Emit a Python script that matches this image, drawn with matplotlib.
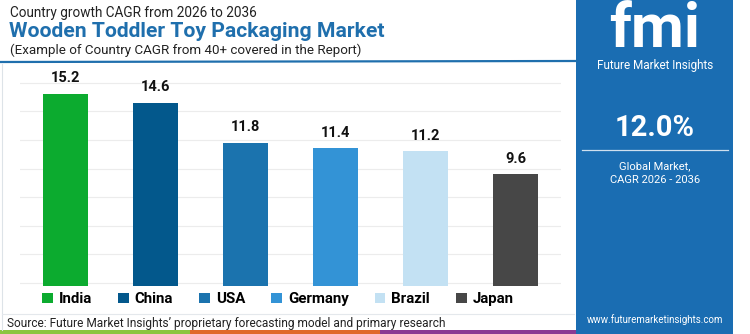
import matplotlib.pyplot as plt
from matplotlib.patches import Rectangle
from matplotlib.lines import Line2D

plt.rcParams['font.family'] = ['Roboto', 'DejaVu Sans']

countries = ['India', 'China', 'USA', 'Germany', 'Brazil', 'Japan']
cagr = [15.2, 14.6, 11.8, 11.4, 11.2, 9.6]
bar_colors = ['#0cab2f', '#03588c', '#1b73ae', '#3393d6', '#c3e1f3', '#474747']
global_cagr = '12.0%'

W, H = 750, 334
fig = plt.figure(figsize=(7.5, 3.34), dpi=100)
fig.patch.set_facecolor('white')


def fx(px):
    return px / W


def fy(py):
    return 1 - py / H


# right blue panel
fig.patches.append(Rectangle((fx(576), 0), fx(157), 1, transform=fig.transFigure,
                             facecolor='#1a6db2', edgecolor='none', zorder=0))

# bottom colour stripe
for x0, x1, c in [(0, 190, '#8cc540'), (190, 380, '#e0692c'), (380, 576, '#8a3a93')]:
    fig.patches.append(Rectangle((fx(x0), 0), fx(x1 - x0), 4 / H, transform=fig.transFigure,
                                 facecolor=c, edgecolor='none', zorder=1))

# title separator line
fig.add_artist(Line2D([fx(0), fx(576)], [fy(62), fy(61)], color='#1f6fad', lw=1.6,
                      transform=fig.transFigure))
# light frame around source
fig.add_artist(Line2D([fx(2), fx(2)], [fy(64), fy(330)], color='#dde3e8', lw=0.8,
                      transform=fig.transFigure))
fig.add_artist(Line2D([fx(2), fx(574)], [fy(314), fy(314)], color='#e4e8ec', lw=0.8,
                      transform=fig.transFigure))

# titles
fig.text(fx(10), fy(13), 'Country growth CAGR from 2026 to 2036', fontsize=9.8,
         color='#222222', va='center', ha='left')
fig.text(fx(9), fy(31.5), 'Wooden Toddler Toy Packaging Market', fontsize=15.2,
         fontweight='bold', color='#1f6fad', va='center', ha='left')
fig.text(fx(10), fy(50), '(Example of Country CAGR from 40+ covered in the Report)',
         fontsize=9.6, color='#222222', va='center', ha='left')

# bar chart
ax = fig.add_axes([fx(20), fy(286), fx(541), (286 - 75) / H])
x = range(len(countries))
bars = ax.bar(x, cagr, width=0.5, color=bar_colors, zorder=3)
ax.set_xlim(-0.5, len(countries) - 0.5)
ax.set_ylim(1.8, 16.53)
ax.set_yticks([2, 4, 6, 8, 10, 12, 14, 16])
ax.grid(axis='y', color='#ececec', lw=0.8, zorder=0)
ax.tick_params(left=False, bottom=False, labelleft=False, labelbottom=False)
for s in ax.spines.values():
    s.set_visible(False)
ax.set_facecolor('none')
for xi, v in zip(x, cagr):
    ax.text(xi, v + 0.6, f'{v}', ha='center', va='bottom', fontsize=10.5,
            fontweight='bold', color='#111111')

# legend
fig.legend(bars, countries, loc='center', bbox_to_anchor=(fx(278), fy(299)), ncol=6,
           frameon=False, handlelength=0.7, handleheight=0.7, handletextpad=0.4,
           columnspacing=1.75, prop={'weight': 'bold', 'size': 10.8})

fig.text(fx(7), fy(323), 'Source: Future Market Insights\u2019 proprietary forecasting model and primary research',
         fontsize=8.6, color='#222222', va='center', ha='left')

# right panel text
fig.text(fx(655), fy(30), 'fmi', fontsize=44, fontweight='bold', color='white',
         ha='center', va='center')
fig.text(fx(655), fy(66), 'Future Market Insights', fontsize=8.5, color='white',
         ha='center', va='center')
fig.text(fx(655), fy(128), global_cagr, fontsize=21, fontweight='bold', color='white',
         ha='center', va='center')
fig.add_artist(Line2D([fx(582), fx(728)], [fy(150), fy(150)], color='#cfe0ef', lw=0.9,
                      transform=fig.transFigure))
fig.text(fx(655), fy(166), 'Global Market,', fontsize=8, color='white',
         ha='center', va='center')
fig.text(fx(655), fy(180), 'CAGR 2026 - 2036', fontsize=8, color='white',
         ha='center', va='center')
fig.text(fx(655), fy(320), 'www.futuremarketinsights.com', fontsize=7, color='white',
         ha='center', va='center')

fig.savefig('out.png', dpi=100, facecolor='white')
